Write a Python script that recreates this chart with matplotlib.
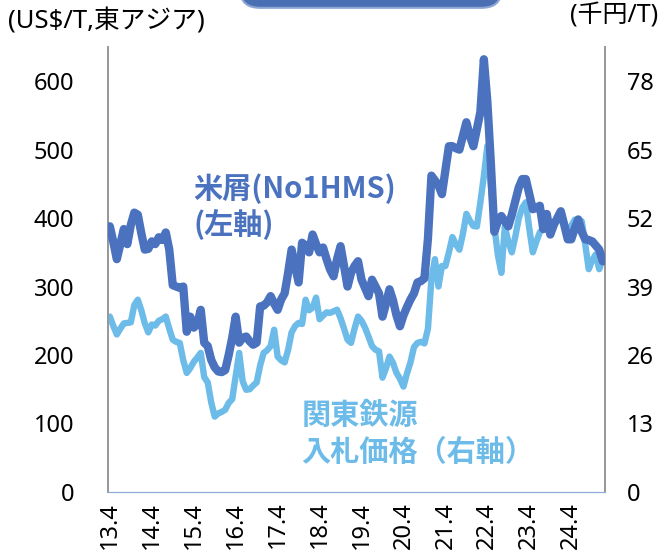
import matplotlib
matplotlib.use("Agg")
import matplotlib.pyplot as plt
from matplotlib.patches import FancyBboxPatch

plt.rcParams['font.family'] = ['Noto Sans', 'Noto Sans CJK JP', 'DejaVu Sans']

# Monthly data, 2013.4 -> 2025.1
scrap_us = [388, 365, 340, 362, 384, 362, 390, 408, 405, 378,
            354, 355, 366, 362, 372, 368, 379, 354, 302, 300,
            298, 300, 234, 256, 240, 245, 266, 218, 213, 193,
            182, 176, 175, 178, 200, 225, 256, 218, 225, 227,
            220, 215, 218, 271, 272, 277, 286, 275, 266, 281,
            290, 320, 354, 330, 306, 364, 360, 350, 376, 362,
            350, 357, 340, 325, 315, 340, 359, 330, 300, 320,
            330, 337, 310, 298, 286, 310, 300, 290, 256, 275,
            296, 280, 258, 242, 258, 270, 281, 290, 306, 308,
            312, 370, 462, 455, 448, 435, 470, 505, 505, 502,
            500, 520, 540, 520, 505, 530, 555, 632, 570, 480,
            380, 395, 403, 395, 388, 405, 425, 445, 457, 457,
            435, 413, 415, 418, 384, 406, 376, 390, 400, 410,
            390, 369, 369, 385, 398, 380, 369, 368, 366, 360,
            354, 337]

kanto_jpy = [33.3, 31.5, 29.9, 31.0, 32.0, 32.1, 32.2, 35.5, 36.5, 34.5,
             32.0, 30.3, 31.8, 31.6, 32.5, 32.8, 33.3, 31.0, 28.9, 28.5,
             28.3, 25.0, 22.6, 23.5, 24.7, 25.5, 26.4, 21.8, 20.8, 17.0,
             14.3, 14.9, 15.2, 15.6, 16.9, 17.6, 22.0, 26.4, 21.0, 19.4,
             19.5, 20.2, 20.8, 24.0, 26.4, 26.9, 27.7, 30.8, 25.7, 25.0,
             24.6, 27.0, 30.3, 31.5, 32.1, 31.9, 36.5, 34.5, 35.0, 36.9,
             32.8, 33.5, 34.1, 34.0, 34.3, 34.6, 33.0, 31.0, 28.9, 28.3,
             31.0, 33.3, 32.5, 31.2, 29.5, 27.7, 27.0, 26.7, 21.7, 23.5,
             25.7, 24.5, 22.6, 21.5, 20.0, 22.5, 24.6, 27.5, 28.3, 28.5,
             28.2, 31.0, 40.5, 44.2, 39.0, 42.9, 42.9, 45.5, 48.4, 47.0,
             46.0, 49.0, 52.8, 51.5, 50.5, 50.4, 55.0, 60.0, 65.7, 58.0,
             50.4, 45.0, 41.6, 50.4, 47.5, 45.5, 48.5, 52.0, 54.0, 55.0,
             50.0, 45.5, 47.5, 49.3, 50.0, 50.8, 50.0, 51.0, 52.0, 52.8,
             51.0, 49.5, 50.5, 51.7, 51.5, 51.4, 47.0, 42.3, 44.0, 45.1,
             42.3, 44.2]

xtick_labels = ["13.4", "14.4", "15.4", "16.4", "17.4", "18.4",
                "19.4", "20.4", "21.4", "22.4", "23.4", "24.4"]
left_ticks = [0, 100, 200, 300, 400, 500, 600]
right_ticks = [0, 13, 26, 39, 52, 65, 78]

dark = '#4a72bf'
light = '#6dbbe8'

fig = plt.figure(figsize=(6.61, 5.59), dpi=100)
ax = fig.add_axes([0.163, 0.120, 0.752, 0.796])
ax2 = ax.twinx()

x = list(range(len(scrap_us)))
ax2.plot(x, kanto_jpy, color=light, lw=4.6, solid_joinstyle='round', solid_capstyle='round', zorder=2)
ax.plot(x, scrap_us, color=dark, lw=6.0, solid_joinstyle='round', solid_capstyle='round', zorder=3)
ax.set_zorder(ax2.get_zorder() + 1)
ax.patch.set_visible(False)

ax.set_xlim(-0.6, len(scrap_us) - 0.4)
ax.set_ylim(0, 650)
ax2.set_ylim(0, 84.5)

ax.set_xticks(range(0, 12 * len(xtick_labels), 12))
ax.set_xticklabels(xtick_labels, rotation=90, fontsize=17)
ax.set_yticks(left_ticks)
ax.set_yticklabels([str(v) for v in left_ticks], fontsize=17)
ax2.set_yticks(right_ticks)
ax2.set_yticklabels([str(v) for v in right_ticks], fontsize=17)

for a in (ax, ax2):
    a.tick_params(length=0)
    a.spines['top'].set_visible(False)
    a.spines['left'].set_color('#999999')
    a.spines['right'].set_color('#999999')
    a.spines['bottom'].set_color('#8fa9d8')
    a.spines['left'].set_linewidth(1.3)
    a.spines['right'].set_linewidth(1.3)
ax.tick_params(axis='y', pad=24)
ax2.tick_params(axis='y', pad=16)
ax.tick_params(axis='x', pad=7)

fig.text(0.012, 0.962, '(US$/T,東アジア)', fontsize=18.5, ha='left', va='center')
fig.text(0.996, 0.972, '(千円/T)', fontsize=18, ha='right', va='center')

cjk = ['Noto Sans CJK JP', 'DejaVu Sans']
fig.text(0.293, 0.663, '米屑(No1HMS)', fontsize=21, fontweight='bold', color=dark,
         ha='left', va='center', family=cjk)
fig.text(0.293, 0.598, '(左軸)', fontsize=21, fontweight='bold', color=dark,
         ha='left', va='center', family=cjk)
fig.text(0.456, 0.258, '関東鉄源', fontsize=21, fontweight='bold', color=light,
         ha='left', va='center', family=cjk)
fig.text(0.456, 0.192, '入札価格（右軸）', fontsize=21, fontweight='bold', color=light,
         ha='left', va='center', family=cjk)

box = FancyBboxPatch((0.364, 0.986), 0.394, 0.1,
                     boxstyle='round,pad=0.0,rounding_size=0.03',
                     transform=fig.transFigure, facecolor='#4a6fb2',
                     edgecolor='#8ea6d6', linewidth=1.5, clip_on=False)
fig.patches.append(box)

fig.savefig('out.png', dpi=100)
